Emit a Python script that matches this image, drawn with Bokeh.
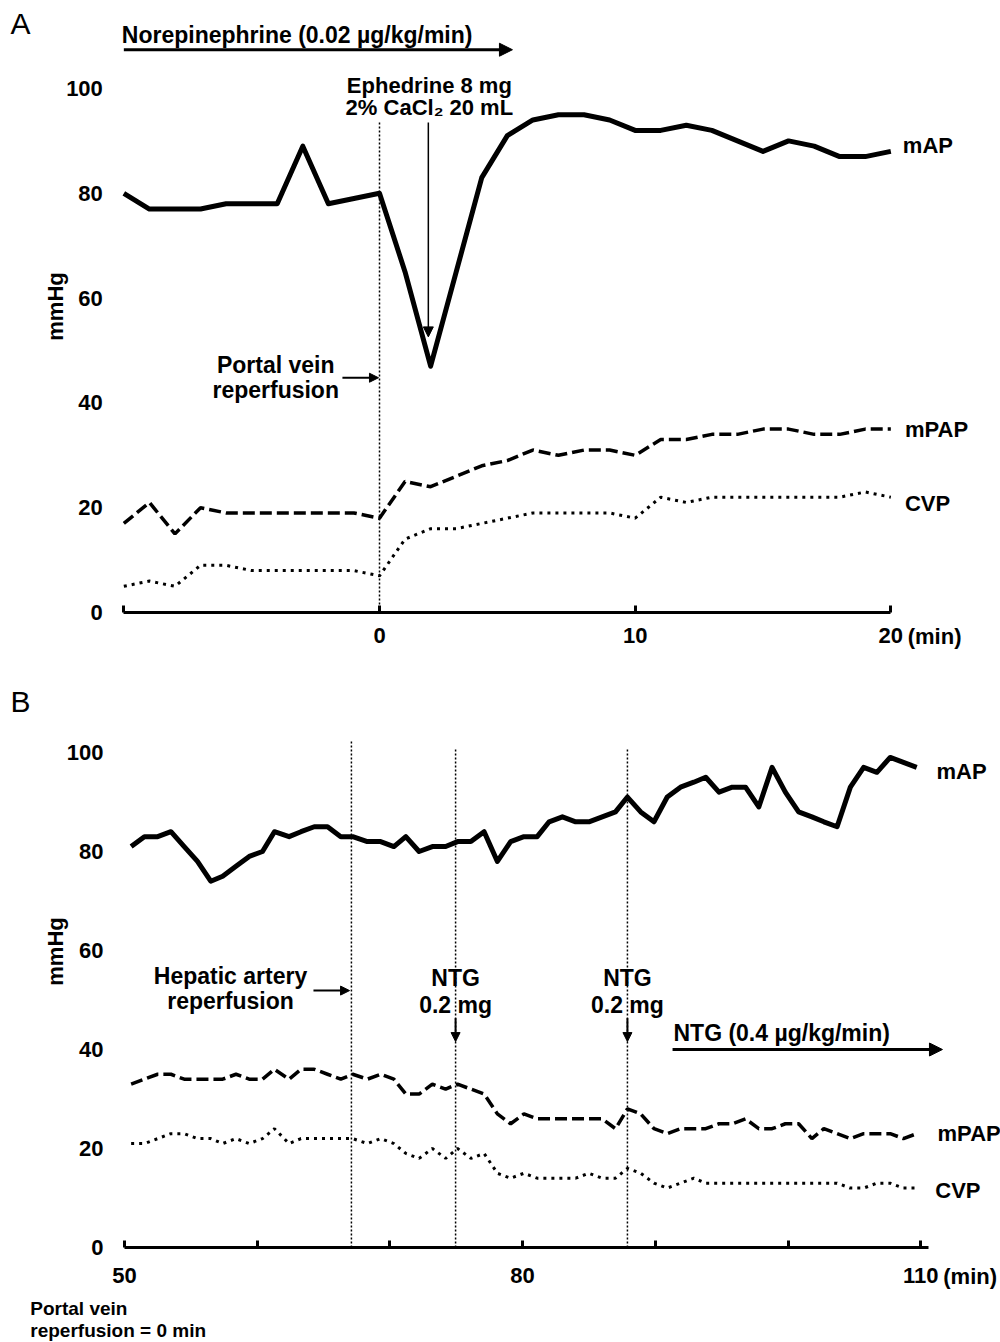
import math
from bokeh.plotting import figure
from bokeh.models import Label, Arrow, NormalHead, FixedTicker, Range1d
from bokeh.layouts import column
from bokeh.embed import file_html
from bokeh.resources import INLINE

FONT = "Liberation Sans"

# ---------------- Panel A data (minutes from portal vein reperfusion) ----------------
time_a = [-10, -9, -8, -7, -6, -5, -4, -3, -2, -1, 0, 1, 2, 3, 4, 5, 6, 7, 8, 9, 10,
          11, 12, 13, 14, 15, 16, 17, 18, 19, 20]
map_a = [80, 77, 77, 77, 78, 78, 78, 89, 78, 79, 80, 65, 47, 65, 83, 91, 94, 95, 95, 94, 92,
         92, 93, 92, 90, 88, 90, 89, 87, 87, 88]
mpap_a = [17, 21, 15, 20, 19, 19, 19, 19, 19, 19, 18, 25, 24, 26, 28, 29, 31, 30, 31, 31, 30,
          33, 33, 34, 34, 35, 35, 34, 34, 35, 35]
cvp_a = [5, 6, 5, 9, 9, 8, 8, 8, 8, 8, 7, 14, 16, 16, 17, 18, 19, 19, 19, 19, 18,
         22, 21, 22, 22, 22, 22, 22, 22, 23, 22]
xticks_a = [-10, 0, 10, 20]
yticks = [0, 20, 40, 60, 80, 100]
events_a = [0]

# ---------------- Panel B data ----------------
time_b = [50.5, 51.5, 52.5, 53.5, 54.5, 55.5, 56.5, 57.4, 58.4, 59.4, 60.4, 61.3, 62.4, 63.3,
          64.3, 65.3, 66.3, 67.2, 68.3, 69.3, 70.3, 71.2, 72.2, 73.2, 74.2, 75.1, 76.1, 77.1,
          78.1, 79.1, 80.1, 81.1, 82.0, 83.0, 84.0, 85.0, 86.0, 87.0, 87.9, 88.9, 89.9, 90.9,
          91.9, 92.9, 93.8, 94.8, 95.8, 96.8, 97.8, 98.8, 99.8, 100.8, 101.8, 102.7, 103.7,
          104.7, 105.7, 106.7, 107.7, 108.7, 109.7]
map_b = [81, 83, 83, 84, 81, 78, 74, 75, 77, 79, 80, 84, 83, 84, 85, 85, 83, 83, 82, 82, 81,
         83, 80, 81, 81, 82, 82, 84, 78, 82, 83, 83, 86, 87, 86, 86, 87, 88, 91, 88, 86, 91,
         93, 94, 95, 92, 93, 93, 89, 97, 92, 88, 87, 86, 85, 93, 97, 96, 99, 98, 97]
mpap_b = [33, 34, 35, 35, 34, 34, 34, 34, 35, 34, 34, 36, 34, 36, 36, 35, 34, 35, 34, 35, 34,
          31, 31, 33, 32, 33, 32, 31, 27, 25, 27, 26, 26, 26, 26, 26, 26, 24, 28, 27, 24, 23,
          24, 24, 24, 25, 25, 26, 24, 24, 25, 25, 22, 24, 23, 22, 23, 23, 23, 22, 23]
cvp_b = [21, 21, 22, 23, 23, 22, 22, 21, 22, 21, 22, 24, 21, 22, 22, 22, 22, 22, 21, 22, 21,
         19, 18, 20, 18, 20, 18, 19, 15, 14, 15, 14, 14, 14, 14, 15, 14, 14, 16, 15, 13, 12,
         13, 14, 13, 13, 13, 13, 13, 13, 13, 13, 13, 13, 13, 12, 12, 13, 13, 12, 12]
xticks_b = [50, 60, 70, 80, 90, 100, 110]
xlabels_b = {60: "", 70: "", 90: "", 100: ""}
events_b = [67.1, 74.95, 87.9]

W = 1000


def make_fig(height, xr, yr, x_fixed, y_fixed, x_bounds, x_standoff):
    p = figure(width=W, height=height, x_range=xr, y_range=yr, title=None,
               output_backend="svg", toolbar_location=None,
               min_border_left=0, min_border_right=0,
               min_border_top=0, min_border_bottom=0)
    p.grid.visible = False
    p.outline_line_color = None
    p.background_fill_color = "white"
    p.border_fill_color = "white"
    ax = p.xaxis[0]
    ax.fixed_location = x_fixed
    ax.bounds = x_bounds
    ax.axis_line_width = 3
    ax.axis_line_color = "black"
    ax.major_tick_line_width = 3
    ax.major_tick_line_color = "black"
    ax.major_tick_in = 7
    ax.major_tick_out = 0
    ax.minor_tick_line_color = None
    ax.major_label_text_font = FONT
    ax.major_label_text_font_style = "bold"
    ax.major_label_text_font_size = "22px"
    ax.major_label_text_color = "black"
    ax.major_label_standoff = x_standoff
    ay = p.yaxis[0]
    ay.fixed_location = y_fixed
    ay.bounds = (0, 100)
    ay.ticker = FixedTicker(ticks=yticks)
    ay.axis_line_color = None
    ay.major_tick_line_color = None
    ay.minor_tick_line_color = None
    ay.major_tick_in = 0
    ay.major_tick_out = 0
    ay.major_label_standoff = 21
    ay.major_label_text_font = FONT
    ay.major_label_text_font_style = "bold"
    ay.major_label_text_font_size = "22px"
    ay.major_label_text_color = "black"
    return p


def lab(p, x, y, text, size="23px", align="left", style="bold", angle=0):
    p.add_layout(Label(x=x, y=y, text=text, text_font=FONT, text_font_size=size,
                       text_font_style=style, text_align=align, text_baseline="middle",
                       text_color="black", angle=angle))


def arrow(p, x0, y0, x1, y1, width=2, size=9):
    p.add_layout(Arrow(end=NormalHead(size=size, fill_color="black", line_color="black",
                                      line_width=1),
                       x_start=x0, y_start=y0, x_end=x1, y_end=y1,
                       line_width=width, line_color="black"))


def draw_series(p, t, m, pa, c):
    p.line(t, c, line_width=3, color="black", line_dash="3 5")
    p.line(t, pa, line_width=3.5, color="black", line_dash="12 5")
    p.line(t, m, line_width=5, color="black", line_join="round")


# ---------------- Panel A ----------------
HA = 680
sx_a = 767 / 30.0      # px per minute
sy_a = 5.24            # px per mmHg
x0_px_a, y0_px_a = 379, 612
pA = make_fig(HA,
              Range1d(-x0_px_a / sx_a, (W - x0_px_a) / sx_a),
              Range1d(-(HA - y0_px_a) / sy_a, y0_px_a / sy_a),
              0, -10, (-10, 20), 15)
pA.xaxis[0].ticker = FixedTicker(ticks=xticks_a)
pA.xaxis[0].major_label_overrides = {-10: ""}

pA.segment(x0=events_a, y0=[0] * len(events_a), x1=events_a, y1=[93.5] * len(events_a),
           line_width=1.5, line_color="black", line_dash="2 2")
draw_series(pA, time_a, map_a, mpap_a, cvp_a)

lab(pA, -14.43, 112.4, "A", size="30px", style="normal")
lab(pA, -10.08, 110.3, "Norepinephrine (0.02 µg/kg/min)")
arrow(pA, -10, 107.4, 5.2, 107.4, width=3, size=13)
lab(pA, 1.95, 100.6, "Ephedrine 8 mg", size="22px", align="center")
lab(pA, 1.95, 96.4, "2% CaCl\u2082 20 mL", size="22px", align="center")
arrow(pA, 1.91, 93.5, 1.91, 52.6, width=1.5, size=10)
lab(pA, -4.06, 47.3, "Portal vein", align="center")
lab(pA, -4.06, 42.4, "reperfusion", align="center")
arrow(pA, -1.45, 44.8, -0.04, 44.8, width=2, size=9)
lab(pA, 20.47, 89.1, "mAP", size="22px")
lab(pA, 20.55, 34.9, "mPAP", size="22px")
lab(pA, 20.55, 20.8, "CVP", size="22px")
lab(pA, 20.66, -4.6, "(min)", size="22px")
lab(pA, -12.67, 58.4, "mmHg", size="22px", align="center", angle=math.pi / 2)

# ---------------- Panel B ----------------
HB = 1342 - HA
sx_b = 13.27
sy_b = 4.95
x0_px_b, y0_px_b = 124, 1247 - HA
pB = make_fig(HB,
              Range1d(50 - x0_px_b / sx_b, 50 + (W - x0_px_b) / sx_b),
              Range1d(-(HB - y0_px_b) / sy_b, y0_px_b / sy_b),
              0, 50, (50, 110.6), 20)
pB.xaxis[0].ticker = FixedTicker(ticks=xticks_b)
pB.xaxis[0].major_label_overrides = xlabels_b

tops_b = [102.2, 100.8, 100.8]
pB.segment(x0=events_b, y0=[0] * len(events_b), x1=events_b, y1=tops_b,
           line_width=1.5, line_color="black", line_dash="2 2")
draw_series(pB, time_b, map_b, mpap_b, cvp_b)

lab(pB, 41.4, 110.3, "B", size="30px", style="normal")
lab(pB, 57.99, 54.9, "Hepatic artery", align="center")
lab(pB, 57.99, 49.7, "reperfusion", align="center")
arrow(pB, 64.24, 51.9, 66.96, 51.9, width=2, size=9)
for xe in events_b[1:]:
    lab(pB, xe, 54.5, "NTG", align="center")
    lab(pB, xe, 48.9, "0.2 mg", align="center")
    arrow(pB, xe, 46.3, xe, 41.6, width=2, size=9)
lab(pB, 91.37, 43.4, "NTG (0.4 µg/kg/min)")
arrow(pB, 91.3, 40.0, 111.64, 40.0, width=3, size=13)
lab(pB, 111.19, 96.2, "mAP", size="22px")
lab(pB, 111.27, 23.0, "mPAP", size="22px")
lab(pB, 111.1, 11.5, "CVP", size="22px")
lab(pB, 111.7, -5.9, "(min)", size="22px")
lab(pB, 42.9, -12.3, "Portal vein", size="19px")
lab(pB, 42.9, -16.8, "reperfusion = 0 min", size="19px")
lab(pB, 44.8, 59.8, "mmHg", size="22px", align="center", angle=math.pi / 2)

layout = column(pA, pB)
open("out.html", "w").write(file_html(layout, INLINE))
